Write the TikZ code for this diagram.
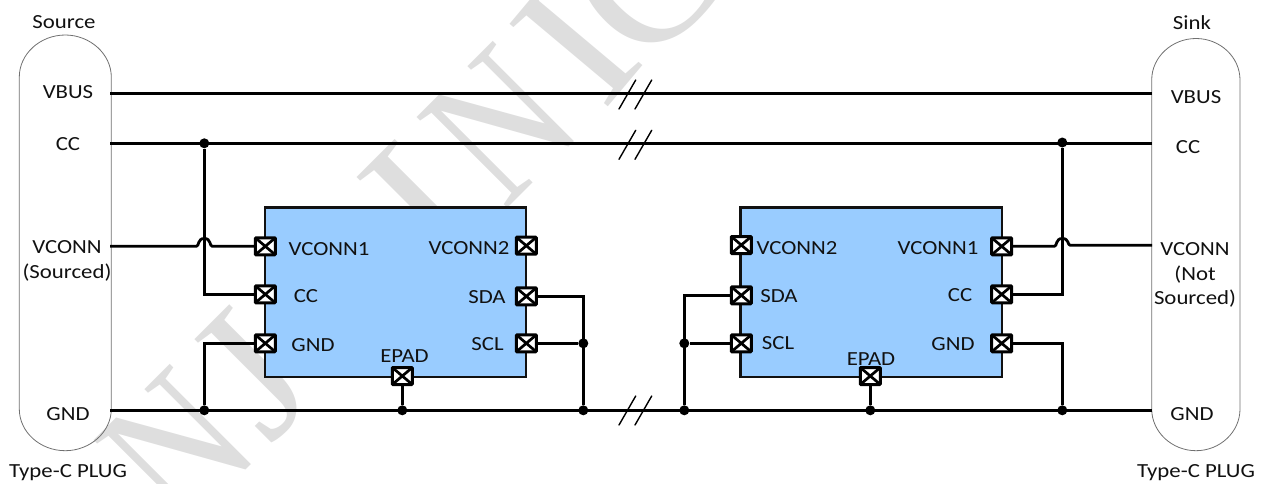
\documentclass[tikz,border=0pt]{standalone}
\usepackage{fontspec}
\setmainfont[FakeStretch=1.14]{Carlito}
\newfontfamily\wmfont{Liberation Serif}
\definecolor{chipblue}{HTML}{99CCFF}
\definecolor{wmgray}{HTML}{DEDEDE}
\definecolor{plugline}{HTML}{707070}
\definecolor{inkc}{HTML}{111111}
\tikzset{
  wire/.style={draw=black,line width=2.8pt},
  thinwire/.style={draw=black,line width=2.8pt},
  plug/.style={draw=plugline,line width=0.8pt},
  chip/.style={draw=inkc,line width=2.8pt,fill=chipblue},
  brk/.style={draw=black,line width=1.4pt,line cap=round},
  lbl/.style={text=inkc,inner sep=0pt,yshift=-1.5pt,font=\fontsize{20}{24.5}\selectfont,align=center},
  pin/.style={draw=black,line width=3pt,fill=white,rounded corners=0.8pt,minimum width=20pt,minimum height=17pt,inner sep=0pt,
    path picture={\draw[black,line width=2.7pt] (path picture bounding box.north west) -- (path picture bounding box.south east)
      (path picture bounding box.north east) -- (path picture bounding box.south west);}},
  dot/.style={circle,fill=black,draw=none,minimum size=10pt,inner sep=0pt},
  wm/.style={text=wmgray,anchor=base west,inner sep=0pt,font=\wmfont\fontsize{196}{196}\selectfont},
}
\begin{document}
\begin{tikzpicture}[x=1pt,y=-1pt]
\useasboundingbox (0,0) rectangle (1264,483);
\clip (0,0) rectangle (1264,483);
% watermark: letter / position along the baseline / width factor / angle
\foreach \l/\s/\f/\a [count=\i] in {N/-250/0.82/45,J/-125/1/45,O/-30/1/45,I/119/1.05/45,N/207/0.82/45,I/347/1.05/50,C/405/1/45}
  \node[wm,rotate=\a,xscale=\f] (wm\i) at ({358+\s*0.7071},{358-\s*0.7071}) {\l};
% plugs
\draw[plug] (19.3,77) .. controls (19.3,54) and (40,35) .. (65.3,35) .. controls (90,35) and (111.3,54) .. (111.3,77)
  -- (111.3,409) .. controls (111.3,432) and (90,450.7) .. (65.3,450.7) .. controls (40,450.7) and (19.3,432) .. (19.3,409) -- cycle;
\draw[plug] (1151.7,80) .. controls (1151.7,57) and (1172,38.5) .. (1196,38.5) .. controls (1220,38.5) and (1240,57) .. (1240,80)
  -- (1240,409) .. controls (1240,432) and (1220,450.7) .. (1196,450.7) .. controls (1172,450.7) and (1151.7,432) .. (1151.7,409) -- cycle;
% rail end points
\coordinate (vbusL) at (110,93.3); \coordinate (vbusR) at (1152,93.3);
\coordinate (ccL) at (110,143.3); \coordinate (ccR) at (1152,143.3);
\coordinate (gndL) at (110,410.3); \coordinate (gndR) at (1152,410.3);
\coordinate (vconL) at (110,246.3); \coordinate (vconR) at (1152,245.3);
% chips
\node[chip,minimum width=261pt,minimum height=169.5pt,inner sep=0pt] (chipA) at (395.5,292.2) {};
\node[chip,minimum width=261.7pt,minimum height=169.5pt,inner sep=0pt] (chipB) at (871.2,292.2) {};
% rails
\draw[wire] (vbusL) -- (vbusR);
\draw[wire] (ccL) -- (ccR);
\draw[wire] (gndL) -- (gndR);
% pins A
\node[pin] (aV1) at (265.3,246.3) {};
\node[pin] (aCC) at (265.3,294.3) {};
\node[pin] (aGND) at (265.3,343.3) {};
\node[pin] (aV2) at (526.3,245.7) {};
\node[pin] (aSDA) at (526.3,296.3) {};
\node[pin] (aSCL) at (526.3,343.3) {};
\node[pin] (aEP) at (402.3,376) {};
% pins B
\node[pin] (bV2) at (741.3,245) {};
\node[pin] (bSDA) at (741.3,295.3) {};
\node[pin] (bSCL) at (741.3,343.3) {};
\node[pin] (bV1) at (1001.7,246.3) {};
\node[pin] (bCC) at (1001.7,294.3) {};
\node[pin] (bGND) at (1001.7,343.3) {};
\node[pin] (bEP) at (870.3,376) {};
% junctions
\node[dot] (j1) at (204.3,143.3) {};
\node[dot] (j2) at (204.3,410.3) {};
\node[dot] (j3) at (402.3,410.3) {};
\node[dot] (j4) at (583.3,343.3) {};
\node[dot] (j5) at (583.3,410.3) {};
\node[dot] (j6) at (684.3,343.3) {};
\node[dot] (j7) at (684.3,410.3) {};
\node[dot] (j8) at (870.3,410.3) {};
\node[dot] (j9) at (1062.3,142.5) {};
\node[dot] (j10) at (1062.3,410.3) {};
% connectors
\draw[wire] (j1) |- (aCC);
\draw[wire] (j2) |- (aGND);
\draw[wire] (aEP) -- (j3);
\draw[thinwire] (aSDA) -| (j5);
\draw[thinwire] (aSCL) -- (j4);
\draw[thinwire] (bSDA) -| (j7);
\draw[thinwire] (bSCL) -- (j6);
\draw[wire] (bEP) -- (j8);
\draw[thinwire] (bCC) -| (j9);
\draw[thinwire] (bGND) -| (j10);
\draw[wire] (vconL) -- (196.3,246.3) .. controls (199.3,246.3) and (197.3,238.5) .. (204.3,238.5) .. controls (211.3,238.5) and (209.3,246.3) .. (212.3,246.3) -- (aV1);
\draw[thinwire] (bV1) -- (1054.3,246.3) .. controls (1057.3,246.3) and (1055.3,238.5) .. (1062.3,238.5) .. controls (1069.3,238.5) and (1067.3,245.3) .. (1070.3,245.3) -- (vconR);
% break marks
\foreach \y in {0,50.3,316}{
  \draw[brk] (619,109+\y) -- (635.7,80+\y);
  \draw[brk] (635,109+\y) -- (651.7,80+\y);
}
% labels left plug
\node[lbl] (t1) at (64,21) {Source};
\node[lbl] (t2) at (68,91) {VBUS};
\node[lbl] (t3) at (68,143) {CC};
\node[lbl] (t4) at (67,259.5) {VCONN\\(Sourced)};
\node[lbl] (t5) at (68,413) {GND};
\node[lbl] (t6) at (68,471) {Type-C PLUG};
% labels chip A
\node[lbl] (a1) at (329,248) {VCONN1};
\node[lbl] (a2) at (306,295) {CC};
\node[lbl] (a3) at (313,344) {GND};
\node[lbl] (a4) at (404.5,355) {EPAD};
\node[lbl] (a5) at (469,247) {VCONN2};
\node[lbl] (a6) at (487,296) {SDA};
\node[lbl] (a7) at (487.5,343) {SCL};
% labels chip B
\node[lbl] (b1) at (797,247) {VCONN2};
\node[lbl] (b2) at (779,295) {SDA};
\node[lbl] (b3) at (778,342) {SCL};
\node[lbl] (b4) at (938,247) {VCONN1};
\node[lbl] (b5) at (960,294) {CC};
\node[lbl] (b6) at (953,343) {GND};
\node[lbl] (b7) at (871,358) {EPAD};
% labels right plug
\node[lbl] (r1) at (1192,21) {Sink};
\node[lbl] (r2) at (1196,96) {VBUS};
\node[lbl] (r3) at (1188,146) {CC};
\node[lbl] (r4) at (1195,273.5) {VCONN\\(Not\\Sourced)};
\node[lbl] (r5) at (1192,413) {GND};
\node[lbl] (r6) at (1196,471) {Type-C PLUG};
\end{tikzpicture}
\end{document}
